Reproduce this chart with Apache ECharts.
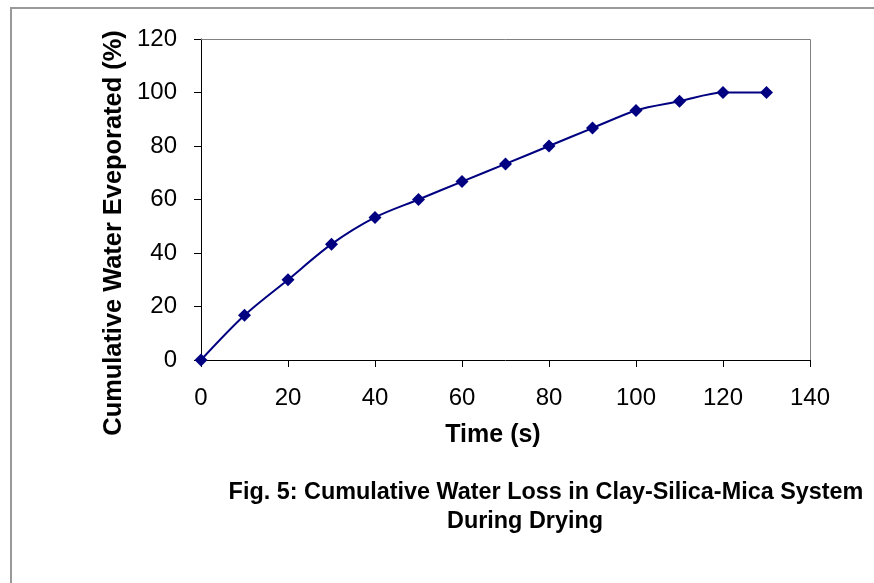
<!DOCTYPE html>
<html>
<head>
<meta charset="utf-8">
<script src="https://cdn.jsdelivr.net/npm/echarts@6/dist/echarts.min.js"></script>
<style>
  html, body { margin: 0; padding: 0; background: #fff; }
  #chart { width: 874px; height: 583px; }
</style>
</head>
<body>
<div id="chart"></div>
<script>
// time in seconds and cumulative water evaporated in percent
const timeSec = [0, 10, 20, 30, 40, 50, 60, 70, 80, 90, 100, 110, 120, 130];
const evaporated = [0, 16.7, 30, 43.3, 53.3, 60, 66.7, 73.3, 80, 86.7, 93.3, 96.7, 100, 100];

const xTitle = "Time (s)";
const yTitle = "Cumulative Water Eveporated (%)";
const caption1 = "Fig. 5: Cumulative Water Loss in Clay-Silica-Mica System";
const caption2 = "During Drying";

const font = "'Liberation Sans', Arial, sans-serif";
const chart = echarts.init(document.getElementById("chart"));

function label(text, x, y, size, rotation) {
  return {
    type: "text", x: x, y: y, rotation: rotation || 0,
    style: {
      text: text, font: "bold " + size + "px " + font, fill: "#000",
      textAlign: "center", textVerticalAlign: "middle"
    }
  };
}

const option = {
  animation: false,
  grid: { left: 201, right: 64, top: 39, bottom: 223, show: false },
  graphic: [
    { type: "line", shape: { x1: 11, y1: 8, x2: 874, y2: 8 },
      style: { stroke: "#999", lineWidth: 2 } },
    { type: "line", shape: { x1: 11, y1: 7, x2: 11, y2: 583 },
      style: { stroke: "#999", lineWidth: 2 } },
    // top and right edge of plot area
    { type: "polyline", shape: { points: [[201, 39.5], [810.5, 39.5], [810.5, 360]] },
      style: { stroke: "#808080", lineWidth: 1, fill: null }, z: 1 },
    label(xTitle, 493, 435, 25),
    label(yTitle, 114, 233, 25.4, Math.PI / 2),
    label(caption1, 546, 493, 23.4),
    label(caption2, 525, 522, 23.4)
  ],
  xAxis: {
    type: "value",
    min: 0, max: 140, interval: 20,
    axisLine: { show: true, onZero: false, lineStyle: { color: "#000", width: 1 } },
    axisTick: { show: true, inside: false, length: 7, lineStyle: { color: "#000" } },
    axisLabel: { margin: 26, fontFamily: font, fontSize: 24, color: "#000" },
    splitLine: { show: false }
  },
  yAxis: {
    type: "value",
    min: 0, max: 120, interval: 20,
    axisLine: { show: true, lineStyle: { color: "#000", width: 1 } },
    axisTick: { show: true, inside: false, length: 7, lineStyle: { color: "#000" } },
    axisLabel: { margin: 24, fontFamily: font, fontSize: 24, color: "#000" },
    splitLine: { show: false }
  },
  series: [
    {
      type: "line",
      data: timeSec.map((t, i) => [t, evaporated[i]]),
      smooth: 0.3,
      symbol: "diamond",
      symbolSize: 13,
      lineStyle: { color: "#000080", width: 2 },
      itemStyle: { color: "#000080" },
      z: 3
    }
  ]
};

chart.setOption(option);
</script>
</body>
</html>
